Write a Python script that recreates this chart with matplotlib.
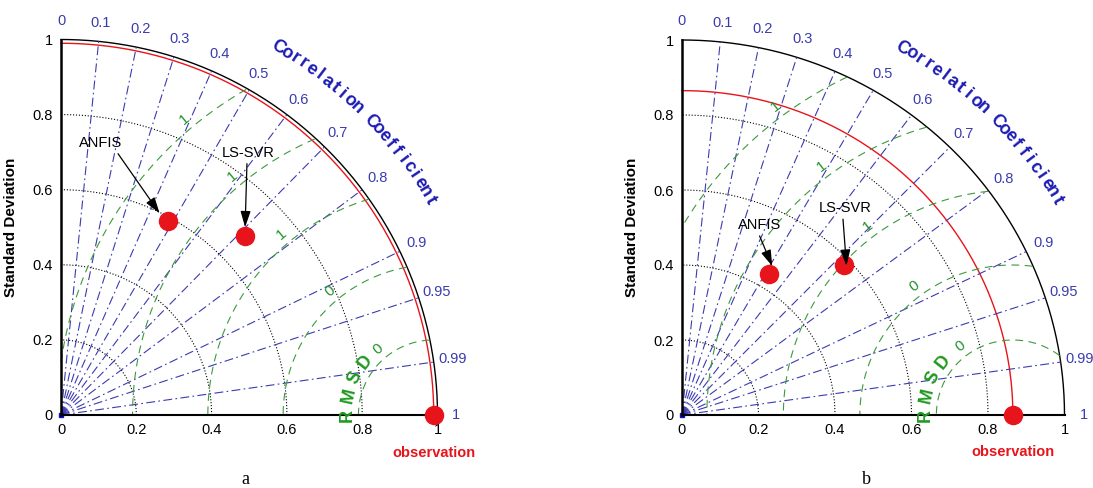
import numpy as np
import matplotlib
matplotlib.use("Agg")
import matplotlib.pyplot as plt

plt.rcParams['font.family'] = ['Liberation Sans', 'DejaVu Sans']

# ---- data ----
models = ['ANFIS', 'LS-SVR']

obs_std_a = 0.99
std_a = [0.590, 0.682]
corr_a = [0.483, 0.717]

obs_std_b = 0.865
std_b = [0.440, 0.583]
corr_b = [0.518, 0.727]

corr_ticks = [0, 0.1, 0.2, 0.3, 0.4, 0.5, 0.6, 0.7, 0.8, 0.9, 0.95, 0.99, 1]
corr_lines = [0.1, 0.2, 0.3, 0.4, 0.5, 0.6, 0.7, 0.8, 0.9, 0.95, 0.99]
std_ticks = [0, 0.2, 0.4, 0.6, 0.8, 1]
std_rings = [0.2, 0.4, 0.6, 0.8]
rms_radii = [0.2, 0.4, 0.6, 0.8, 1.0]
rms_text = ['0', '0', '1', '1', '1']

BLUE = '#3b3bb0'
GREEN = '#3c9a3c'
RED = '#e8141b'


def draw_taylor(ax, obs, stds, corrs, rms_angle, notes):
    t = np.linspace(0, np.pi / 2, 300)

    # std dev rings
    for r in std_rings:
        ax.plot(r * np.cos(t), r * np.sin(t), color='black', ls=':', lw=0.8)
    ax.plot(np.cos(t), np.sin(t), color='black', lw=1.0)
    ax.plot(obs * np.cos(t), obs * np.sin(t), color=RED, lw=1.0)

    # correlation lines + labels
    for c in corr_lines:
        a = np.arccos(c)
        ax.plot([0, np.cos(a)], [0, np.sin(a)], color=BLUE, ls=(0, (8, 3, 1.5, 3)), lw=0.8)
    for c in corr_ticks:
        a = np.arccos(c)
        ax.text(1.05 * np.cos(a), 1.05 * np.sin(a), f'{c:g}', color=BLUE,
                fontsize=10.5, ha='center', va='center')

    # curved "Correlation Coefficient" title
    title = 'Correlation Coefficient'
    angs = np.linspace(np.radians(59.5), np.radians(30.3), len(title))
    for ch, a in zip(title, angs):
        ax.text(1.135 * np.cos(a), 1.135 * np.sin(a), ch, color='#1c1cb4',
                fontsize=13, fontweight='bold', ha='center', va='center',
                rotation=np.degrees(a) - 90)

    # RMSD arcs centred on the observation
    p = np.linspace(0, np.pi, 600)
    for r, lab in zip(rms_radii, rms_text):
        x = obs + r * np.cos(p)
        y = r * np.sin(p)
        bad = (x < 0) | (np.hypot(x, y) > 1.0)
        x[bad] = np.nan
        y[bad] = np.nan
        ax.plot(x, y, color=GREEN, ls=(0, (7, 5)), lw=0.8)
        a = np.radians(rms_angle)
        ax.text(obs + (r + 0.03) * np.cos(a), (r + 0.03) * np.sin(a), lab,
                color='#22922a', fontsize=11, ha='center', va='center',
                rotation=rms_angle - 90)
    for ch, a in zip('RMSD', np.radians(np.linspace(180, 142, 4))):
        ax.text(obs + 0.23 * np.cos(a), 0.23 * np.sin(a), ch, color='#1f9a1f',
                fontsize=13, fontweight='bold', ha='center', va='center',
                rotation=np.degrees(a) - 90)

    # points
    ax.plot(0, 0, marker='s', color='#1010d0', ms=3.5, clip_on=False)
    ax.plot(obs, 0, 'o', color=RED, ms=13, clip_on=False, zorder=5)
    ax.text(obs, -0.1, 'observation', color=RED, fontsize=10.5,
            fontweight='bold', ha='center', va='center')
    xs = [s * c for s, c in zip(stds, corrs)]
    ys = [s * np.sqrt(1 - c ** 2) for s, c in zip(stds, corrs)]
    ax.plot(xs, ys, 'o', color=RED, ms=13, ls='none', zorder=5)

    for name, (tx, ty, tipx, tipy, rp) in zip(models, notes):
        ax.annotate(name, xy=(tipx, tipy), xytext=(tx, ty), fontsize=10.5,
                    ha='center', va='center', zorder=6,
                    arrowprops=dict(arrowstyle='-|>,head_length=0.7,head_width=0.22',
                                    color='black', lw=0.9, relpos=rp,
                                    shrinkA=1, shrinkB=0, mutation_scale=14))

    # axes
    ax.set_xlim(0, 1)
    ax.set_ylim(0, 1)
    ax.set_xticks(std_ticks)
    ax.set_yticks(std_ticks)
    ax.set_xticklabels([f'{v:g}' for v in std_ticks])
    ax.set_yticklabels([f'{v:g}' for v in std_ticks])
    ax.tick_params(length=0, labelsize=10.5, pad=6)
    for s in ['top', 'right']:
        ax.spines[s].set_visible(False)
    ax.spines['left'].set_linewidth(1.8)
    ax.spines['bottom'].set_linewidth(1.5)
    ax.set_ylabel('Standard Deviation', fontsize=11, fontweight='bold', labelpad=10)
    for line in ax.lines:
        line.set_clip_on(False)


fig = plt.figure(figsize=(10.93, 4.88), dpi=100)
ax_a = fig.add_axes([61 / 1093, 73 / 488, 376.5 / 1093, 375.5 / 488])
ax_b = fig.add_axes([682 / 1093, 73 / 488, 382.5 / 1093, 375 / 488])

draw_taylor(ax_a, obs_std_a, std_a, corr_a, 130,
            [(0.104, 0.725, 0.262, 0.537, (0.85, 0.0)),
             (0.497, 0.699, 0.489, 0.500, (0.48, 0.0))])
draw_taylor(ax_b, obs_std_b, std_b, corr_b, 127,
            [(0.204, 0.507, 0.236, 0.397, (0.45, 0.0)),
             (0.427, 0.552, 0.430, 0.398, (0.45, 0.0))])

fig.text(245 / 1093, 1 - 479 / 488, 'a', family='Liberation Serif',
         fontsize=13, ha='center', va='center')
fig.text(866 / 1093, 1 - 479 / 488, 'b', family='Liberation Serif',
         fontsize=13, ha='center', va='center')

fig.savefig('out.png', dpi=100)
